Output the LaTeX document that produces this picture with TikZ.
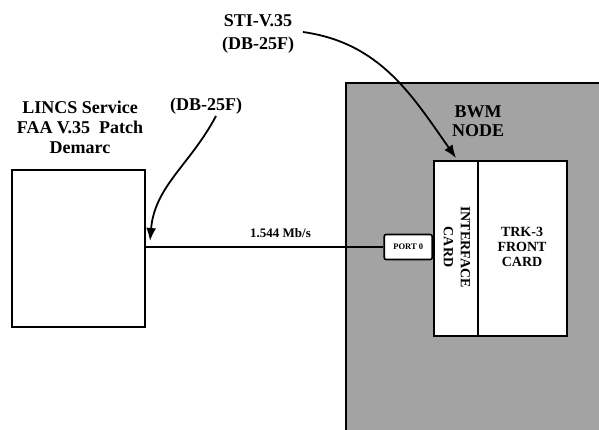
\documentclass[tikz,border=0pt]{standalone}
\usepackage{fontspec}
\setmainfont{Liberation Serif}
\usetikzlibrary{arrows.meta,positioning}
\definecolor{bwmgray}{gray}{0.64}

\begin{document}
\begin{tikzpicture}[x=1pt, y=-1pt,
    box/.style = {draw, line width=1.6pt, inner sep=0pt},
    big/.style = {font=\bfseries\fontsize{18}{20}\selectfont, align=center, inner sep=0pt},
    mid/.style = {font=\bfseries\fontsize{14}{15}\selectfont, align=center, inner sep=0pt},
    tip/.style = {-{Latex[length=13pt,width=10pt]}, line width=1.8pt}]
            \useasboundingbox (0,0) rectangle (599,429);
            \clip (0,0) rectangle (599,429);

            % BWM node shelf
            \node[box, fill=bwmgray, minimum width=270pt, minimum height=360pt, anchor=north west] (bwm) at (345,82) {};
            \node[big] (bwmlbl) at (478,121) {BWM\\[-1pt]NODE};

            % cards
            \node[box, fill=white, minimum width=44pt, minimum height=175pt, anchor=north west] (iface) at (433,160) {};
            \node[box, fill=white, minimum width=89pt, minimum height=175pt, anchor=north west] (front) at (477,160) {};
            \node[mid, rotate=-90] (ifacelbl) at (457,247) {INTERFACE\\[2pt]CARD};
            \node[mid] (frontlbl) at (522,247) {TRK-3\\FRONT\\CARD};
            \coordinate (portin) at (433,247);
            \node[box, fill=white, rounded corners=2pt, minimum width=48pt, minimum height=25pt,
                  font=\bfseries\fontsize{8.5}{9}\selectfont, left=0pt of portin] (port) {PORT 0};

            % demarc
            \node[box, minimum width=133pt, minimum height=157pt] (demarc) at (78.5,248.5) {};
            \node[big] (demarclbl) at (80,127) {LINCS Service\\FAA V.35\ \ Patch\\Demarc};
            \node[big] (db1) at (206,106) {(DB-25F)};
            \node[big] (sti) at (258,34) {STI-V.35\\[3pt](DB-25F)};

            \draw[line width=1.6pt] (demarc.east |- port.west) -- node[pos=0.567, above=5pt, font=\bfseries\fontsize{13}{14}\selectfont] {1.544 Mb/s} (port.west);

            \coordinate (tailA) at (216,116);
            \coordinate (tipA) at (150,241);
            \coordinate (tailB) at (303,32);
            \coordinate (tipB) at (456,158);
            \path[tip] (tailA) edge [out=-118,in=85] (tipA);
            \path[tip] (tailB) edge [out=-8,in=125] (tipB);
        \end{tikzpicture}
\end{document}
